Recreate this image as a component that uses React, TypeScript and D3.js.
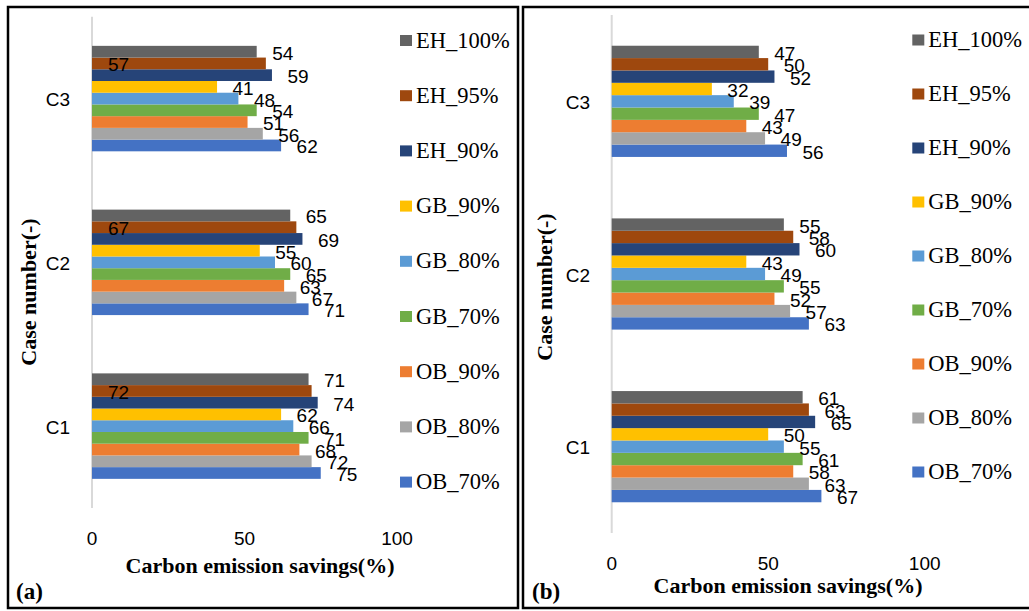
import React from "react";
import * as d3 from "d3";

const categories = ["C1", "C2", "C3"];
const seriesNames = ["OB_70%", "OB_80%", "OB_90%", "GB_70%", "GB_80%", "GB_90%", "EH_90%", "EH_95%", "EH_100%"];
const seriesColors = ["#4472C4", "#A5A5A5", "#ED7D31", "#70AD47", "#5B9BD5", "#FFC000", "#264478", "#9E480E", "#636363"];
const xTicks = [0, 50, 100];

// values per series: [C1, C2, C3]
const panelAValues = [
  [75, 71, 62],
  [72, 67, 56],
  [68, 63, 51],
  [71, 65, 54],
  [66, 60, 48],
  [62, 55, 41],
  [74, 69, 59],
  [72, 67, 57],
  [71, 65, 54],
];
const panelBValues = [
  [67, 63, 56],
  [63, 57, 49],
  [58, 52, 43],
  [61, 55, 47],
  [55, 49, 39],
  [50, 43, 32],
  [65, 60, 52],
  [63, 58, 50],
  [61, 55, 47],
];

const SANS = "'Liberation Sans', Arial, sans-serif";
const SERIF = "'Liberation Serif', 'Times New Roman', serif";

type PanelCfg = {
  values: number[][];
  x0: number;
  x1: number;
  yTop: number;
  yBottom: number;
  catRight: number;
  tickY: number;
  titleX: number;
  titleY: number;
  yTitleX: number;
  yTitleY: number;
  legendSquareX: number;
  legendY0: number;
  legendStep: number;
  tag: string;
  tagX: number;
  insideSeries?: string;
  insideX?: number;
};

function Panel({ cfg }: { cfg: PanelCfg }) {
  const x = d3.scaleLinear().domain([0, 100]).range([cfg.x0, cfg.x1]);
  const y = d3
    .scaleBand<string>()
    .domain([...categories].reverse())
    .range([cfg.yTop, cfg.yBottom])
    .paddingInner(0.356)
    .paddingOuter(0.178);
  const inner = d3
    .scaleBand<string>()
    .domain([...seriesNames].reverse())
    .range([0, y.bandwidth()]);

  const bars: any[] = [];
  const labels: any[] = [];
  seriesNames.forEach((s, si) => {
    categories.forEach((c, ci) => {
      const v = cfg.values[si][ci];
      const by = (y(c) as number) + (inner(s) as number);
      const bh = inner.bandwidth();
      bars.push(
        <rect key={`b-${s}-${c}`} x={x(0)} y={by} width={x(v) - x(0)} height={bh} fill={seriesColors[si]} />
      );
      const lx = cfg.insideSeries === s ? (cfg.insideX as number) : x(v) + 15.5;
      labels.push(
        <text
          key={`l-${s}-${c}`}
          x={lx}
          y={by + bh / 2 + 1.5}
          dominantBaseline="central"
          fontFamily={SANS}
          fontSize={19}
          fill="#000"
        >
          {v}
        </text>
      );
    });
  });

  const legendOrder = [...seriesNames].reverse();

  return (
    <g>
      <line x1={x(0)} x2={x(0)} y1={cfg.yTop} y2={cfg.yBottom} stroke="#D9D9D9" strokeWidth={2} />
      {bars}
      {labels}
      {categories.map((c) => (
        <text
          key={`c-${c}`}
          x={cfg.catRight}
          y={(y(c) as number) + y.bandwidth() / 2 + 1}
          textAnchor="end"
          dominantBaseline="central"
          fontFamily={SANS}
          fontSize={19}
          fill="#000"
        >
          {c}
        </text>
      ))}
      {xTicks.map((t) => (
        <text
          key={`t-${t}`}
          x={x(t)}
          y={cfg.tickY}
          textAnchor="middle"
          dominantBaseline="central"
          fontFamily={SANS}
          fontSize={19}
          fill="#000"
        >
          {t}
        </text>
      ))}
      <text
        x={cfg.titleX}
        y={cfg.titleY}
        textAnchor="middle"
        fontFamily={SERIF}
        fontWeight="bold"
        fontSize={22}
        fill="#000"
      >
        Carbon emission savings(%)
      </text>
      <text
        transform={`translate(${cfg.yTitleX},${cfg.yTitleY}) rotate(-90)`}
        textAnchor="middle"
        dominantBaseline="central"
        fontFamily={SERIF}
        fontWeight="bold"
        fontSize={22}
        fill="#000"
      >
        Case number(-)
      </text>
      {legendOrder.map((s, i) => {
        const cy = cfg.legendY0 + i * cfg.legendStep;
        const si = seriesNames.indexOf(s);
        return (
          <g key={`lg-${s}`}>
            <rect x={cfg.legendSquareX} y={cy - 5.5} width={12} height={11} fill={seriesColors[si]} />
            <text x={cfg.legendSquareX + 16} y={cy + 7} fontFamily={SERIF} fontSize={22.5} fill="#000">
              {s}
            </text>
          </g>
        );
      })}
      <text x={cfg.tagX} y={599} fontFamily={SERIF} fontWeight="bold" fontSize={23} fill="#000">
        {cfg.tag}
      </text>
    </g>
  );
}

export default function App() {
  const cfgA: PanelCfg = {
    values: panelAValues,
    x0: 92,
    x1: 397,
    yTop: 16.7,
    yBottom: 508,
    catRight: 70,
    tickY: 538,
    titleX: 260,
    titleY: 573,
    yTitleX: 28,
    yTitleY: 292,
    legendSquareX: 400,
    legendY0: 40.5,
    legendStep: 55.2,
    tag: "(a)",
    tagX: 16,
    insideSeries: "EH_95%",
    insideX: 108,
  };
  const cfgB: PanelCfg = {
    values: panelBValues,
    x0: 611.7,
    x1: 924.7,
    yTop: 15,
    yBottom: 533,
    catRight: 590,
    tickY: 563.5,
    titleX: 788,
    titleY: 592.5,
    yTitleX: 544,
    yTitleY: 287,
    legendSquareX: 912.3,
    legendY0: 40,
    legendStep: 54,
    tag: "(b)",
    tagX: 532,
  };
  return (
    <svg
      width={1029}
      height={611}
      style={{ position: "absolute", left: 0, top: 0, background: "#fff" }}
    >
      <rect x={0} y={0} width={1029} height={611} fill="#fff" />
      <rect x={8} y={7} width={510} height={601} fill="none" stroke="#000" strokeWidth={2.5} />
      <rect x={523} y={7} width={520} height={601} fill="none" stroke="#000" strokeWidth={2.5} />
      <Panel cfg={cfgA} />
      <Panel cfg={cfgB} />
    </svg>
  );
}
